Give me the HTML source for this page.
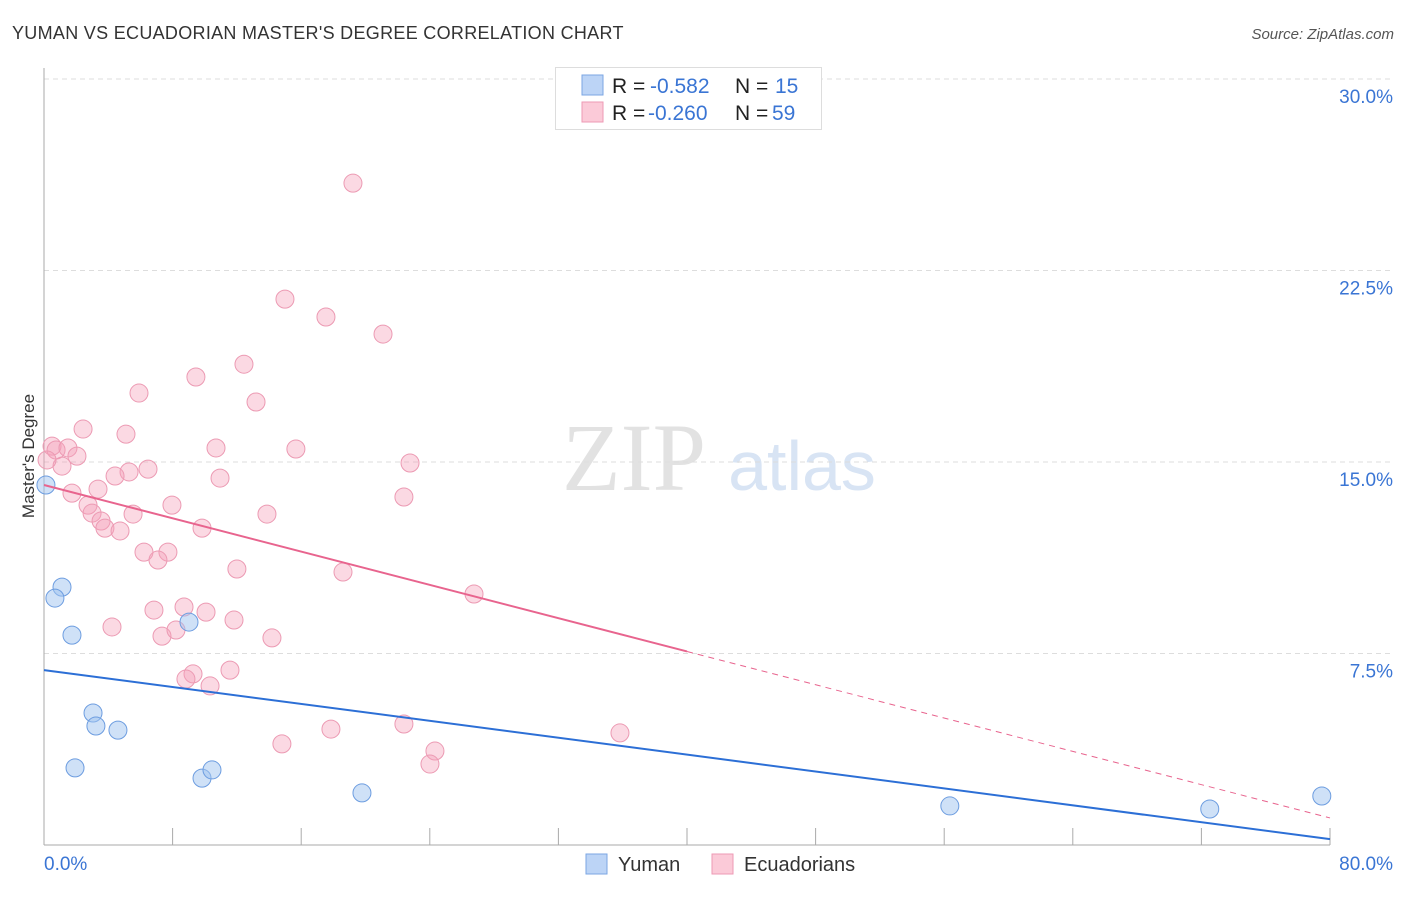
<!DOCTYPE html>
<html><head><meta charset="utf-8"><style>
body{margin:0;background:#fff;font-family:"Liberation Sans",sans-serif;}
</style></head><body>
<svg id="chart" width="1406" height="892" xmlns="http://www.w3.org/2000/svg">
<text x="12" y="39" font-size="18" letter-spacing="0.3" fill="#333">YUMAN VS ECUADORIAN MASTER'S DEGREE CORRELATION CHART</text>
<text x="1394" y="39" font-size="15" fill="#555" font-style="italic" text-anchor="end">Source: ZipAtlas.com</text>
<g>
<text x="634" y="490" font-size="96" font-family="Liberation Serif,serif" fill="#e2e2e2" text-anchor="middle">ZIP</text>
<text x="802" y="490" font-size="70" fill="#d8e4f4" text-anchor="middle">atlas</text>
</g>
<g id="grid"></g>
<g id="axes"></g>
<g id="marks"></g>
<text transform="translate(34,456) rotate(-90)" font-size="17" fill="#333" text-anchor="middle">Master's Degree</text>
<g>
<rect x="555.5" y="67.5" width="266" height="62" fill="#fff" stroke="#ddd"/>
<rect x="582" y="75" width="21" height="20" fill="#bcd4f6" stroke="#7ba6e3"/>
<rect x="582" y="102" width="21" height="20" fill="#fbcad8" stroke="#ee9ab4"/>
<text x="612" y="93" font-size="21" fill="#222">R = <tspan fill="#3a75d4" x="650">-0.582</tspan><tspan x="735">N = </tspan><tspan fill="#3a75d4" x="775">15</tspan></text>
<text x="612" y="120" font-size="21" fill="#222">R = <tspan fill="#3a75d4" x="648">-0.260</tspan><tspan x="735">N = </tspan><tspan fill="#3a75d4" x="772">59</tspan></text>
</g>
<g>
<rect x="586" y="854" width="21" height="20" fill="#bcd4f6" stroke="#7ba6e3"/>
<text x="618" y="871" font-size="20" fill="#333">Yuman</text>
<rect x="712" y="854" width="21" height="20" fill="#fbcad8" stroke="#ee9ab4"/>
<text x="744" y="871" font-size="20" fill="#333">Ecuadorians</text>
</g>
</svg>
<script>
const yTicks=[7.5,15,22.5,30];
const yTickLabels=["7.5%","15.0%","22.5%","30.0%"];
const xTicks=[0,8,16,24,32,40,48,56,64,72,80];
const xEndLabels=["0.0%","80.0%"];
const yumanX=[0.12,1.12,0.68,1.74,3.05,3.23,4.60,1.93,9.02,9.83,10.45,19.78,56.35,72.52,79.49];
const yumanY=[14.10,10.10,9.67,8.22,5.17,4.66,4.50,3.02,8.73,2.62,2.94,2.04,1.53,1.41,1.92];
const ecuX=[19.22,14.99,17.54,21.09,12.44,9.45,5.91,13.19,2.43,5.10,0.50,0.75,1.49,2.05,1.12,10.70,15.67,22.77,6.47,5.29,4.42,10.95,3.36,1.74,22.39,2.74,7.96,2.99,5.54,13.87,3.55,3.79,4.73,9.83,6.22,7.71,7.09,12.00,18.60,26.75,6.84,8.71,10.08,11.82,4.23,7.34,8.21,14.18,9.27,8.83,11.57,10.33,14.80,17.85,22.39,24.32,24.01,35.83,0.19];
const ecuY=[25.92,21.38,20.68,20.01,18.83,18.33,17.70,17.35,16.29,16.09,15.62,15.47,15.55,15.23,14.84,15.55,15.51,14.96,14.72,14.61,14.45,14.37,13.94,13.78,13.63,13.31,13.31,13.00,12.96,12.96,12.69,12.41,12.30,12.41,11.47,11.47,11.16,10.81,10.69,9.83,9.20,9.32,9.12,8.81,8.54,8.18,8.42,8.11,6.70,6.50,6.85,6.23,3.96,4.54,4.74,3.68,3.17,4.39,15.08];
const yumanTrend=[6.85,0.23];      // y at x=0, x=80
const ecuTrend=[14.10,1.06];       // y at x=0, x=80
const ecuSolidEnd=40;

const NS="http://www.w3.org/2000/svg";
const X=v=>44+v/80*1286;
const Y=v=>845-v/7.5*191.5;
function mk(p,tag,a){const e=document.createElementNS(NS,tag);for(const k in a)e.setAttribute(k,a[k]);p.appendChild(e);return e;}
const grid=document.getElementById('grid'),axes=document.getElementById('axes'),marks=document.getElementById('marks');
yTicks.forEach((t,i)=>{
 const l=mk(grid,'line',{x1:44,x2:1393,y1:Y(t),y2:Y(t),stroke:'#ddd','stroke-dasharray':'5,4'});
 
 
 const tx=mk(axes,'text',{x:1393,y:Y(t)+24,'font-size':19,fill:'#3a75d4','text-anchor':'end'});
 tx.textContent=yTickLabels[i];
 
 
});
const ya=mk(axes,'line',{x1:44,x2:44,y1:68,y2:845,stroke:'#aaa'});


const xa=mk(axes,'line',{x1:44,x2:1330,y1:845,y2:845,stroke:'#aaa'});


xTicks.forEach(t=>{
 const l=mk(axes,'line',{x1:X(t),x2:X(t),y1:828,y2:845,stroke:'#aaa'});
 
 
});
[[0,'start',44],[80,'end',1393]].forEach((d,i)=>{
 const tx=mk(axes,'text',{x:d[2],y:870,'font-size':19,fill:'#3a75d4','text-anchor':d[1]});
 tx.textContent=xEndLabels[i];
 
 
});
ecuX.forEach((x,i)=>{
 const c=mk(marks,'circle',{cx:X(x),cy:Y(ecuY[i]),r:9,fill:'rgba(244,160,186,0.4)',stroke:'#ec9ab3','stroke-width':1});
 
 
});
yumanX.forEach((x,i)=>{
 const c=mk(marks,'circle',{cx:X(x),cy:Y(yumanY[i]),r:9,fill:'rgba(160,195,240,0.5)',stroke:'#6d9de0','stroke-width':1});
 
 
});
const ey=x=>ecuTrend[0]+(ecuTrend[1]-ecuTrend[0])*x/80;
const l1=mk(marks,'line',{x1:X(0),y1:Y(ecuTrend[0]),x2:X(ecuSolidEnd),y2:Y(ey(ecuSolidEnd)),stroke:'#e8648e','stroke-width':2});


const l2=mk(marks,'line',{x1:X(ecuSolidEnd),y1:Y(ey(ecuSolidEnd)),x2:X(80),y2:Y(ecuTrend[1]),stroke:'#e8648e','stroke-width':1,'stroke-dasharray':'6,5'});


const l3=mk(marks,'line',{x1:X(0),y1:Y(yumanTrend[0]),x2:X(80),y2:Y(yumanTrend[1]),stroke:'#2c6fd6','stroke-width':2});


</script>
</body></html>
